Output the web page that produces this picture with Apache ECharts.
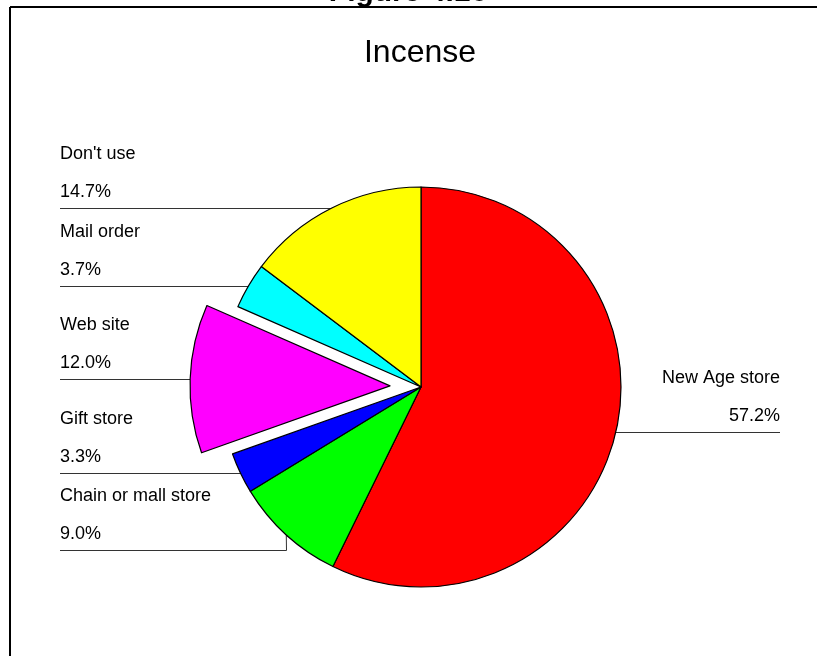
<!DOCTYPE html>
<html>
<head>
<meta charset="utf-8">
<script src="https://cdn.jsdelivr.net/npm/echarts@6/dist/echarts.min.js"></script>
<style>
  html, body { margin: 0; padding: 0; background: #ffffff; }
  #chart { width: 817px; height: 656px; }
</style>
</head>
<body>
<div id="chart"></div>
<script>
// Where incense buyers shop (share of respondents, %)
const categories = ['New Age store', 'Chain or mall store', 'Gift store', 'Web site', 'Mail order', "Don't use"];
const shares = [57.2, 9.0, 3.3, 12.0, 3.7, 14.7];
const sliceColors = ['#ff0000', '#00ff00', '#0000ff', '#ff00ff', '#00ffff', '#ffff00'];
const explodedSlice = 'Web site';
const chartTitle = 'Incense';
const figureCaption = 'Figure 4.16';

// Pie geometry and label column settings
const CX = 421, CY = 387, R = 200, OFFSET = 31;
const ROW = 77;                 // height of one two-line label block
const LEFT_X = 60, RIGHT_X = 780;
const FONT = '"Liberation Sans", Arial, sans-serif';

// Mid-angle direction of every slice (clockwise from 12 o'clock)
const total = shares.reduce((a, b) => a + b, 0);
let acc = 0;
const dirs = shares.map(v => {
  const mid = (acc + v / 2) / total * 2 * Math.PI;
  acc += v;
  return { sx: Math.sin(mid), cy: -Math.cos(mid) };
});
const explodedIndex = categories.indexOf(explodedSlice);
const shift = [dirs[explodedIndex].sx * OFFSET, dirs[explodedIndex].cy * OFFSET];

// Rim point where each leader line starts
const anchors = dirs.map((d, i) => {
  const r = R + (i === explodedIndex ? OFFSET : 0);
  return { x: CX + r * d.sx, y: CY + r * d.cy, right: d.sx > 0 };
});

// Stack the left-hand labels top-down so that their blocks never overlap
const lineY = anchors.map(a => a.y);
let prevY = -Infinity;
anchors.map((a, i) => i)
  .filter(i => !anchors[i].right)
  .sort((a, b) => anchors[a].y - anchors[b].y)
  .forEach(i => { lineY[i] = Math.max(anchors[i].y, prevY + ROW); prevY = lineY[i]; });

const hidden = { color: 'rgba(0,0,0,0)', borderWidth: 0 };
const snap = v => Math.round(v) + 0.5;

const chart = echarts.init(document.getElementById('chart'), null, { renderer: 'canvas' });

chart.setOption({
  animation: false,
  backgroundColor: '#ffffff',
  graphic: [
    { type: 'text', x: 408, y: -7,
      style: { text: figureCaption, font: 'bold 30px ' + FONT, fill: '#000', align: 'center', verticalAlign: 'middle' } },
    { type: 'rect', shape: { x: 0, y: 7, width: 817, height: 649 }, style: { fill: '#fff' }, z: -1 },
    { type: 'line', shape: { x1: 10, y1: 7, x2: 817, y2: 7 }, style: { stroke: '#000', lineWidth: 2 } },
    { type: 'line', shape: { x1: 10, y1: 7, x2: 10, y2: 656 }, style: { stroke: '#000', lineWidth: 2 } },
    { type: 'text', x: 420, y: 53,
      style: { text: chartTitle, font: '32px ' + FONT, fill: '#000', align: 'center', verticalAlign: 'middle' } }
  ],
  series: [
    // Main pie: every slice except the pulled-out one, plus all labels
    {
      type: 'pie',
      center: [CX, CY],
      radius: R,
      startAngle: 90,
      clockwise: true,
      avoidLabelOverlap: false,
      emphasis: { disabled: true },
      itemStyle: { borderColor: '#000', borderWidth: 1.2 },
      data: categories.map((name, i) => ({
        name,
        value: shares[i],
        itemStyle: i === explodedIndex ? hidden : { color: sliceColors[i] }
      })),
      label: {
        show: true,
        position: 'outside',
        color: '#000',
        fontFamily: FONT,
        fontSize: 18,
        formatter: p => '{n|' + p.name + '}\n{v|' + p.value.toFixed(1) + '%}',
        rich: {
          n: { fontSize: 18, lineHeight: 38, fontFamily: FONT, color: '#000' },
          v: { fontSize: 18, lineHeight: 38, fontFamily: FONT, color: '#000' }
        }
      },
      labelLine: { show: true, lineStyle: { color: '#333', width: 1 } },
      labelLayout: function (p) {
        const i = p.dataIndex, a = anchors[i], y = lineY[i];
        const endX = a.right ? RIGHT_X : LEFT_X;
        const pts = [[a.x, snap(a.y)]];
        if (Math.abs(y - a.y) > 1) pts.push([snap(a.x), snap(y)]);
        pts.push([endX, snap(y)]);
        return {
          x: endX, y: y + 3,
          align: a.right ? 'right' : 'left',
          verticalAlign: 'bottom',
          labelLinePoints: pts
        };
      }
    },
    // The same pie again, showing only the exploded slice, moved out along its mid-angle
    {
      type: 'pie',
      silent: true,
      center: [CX + shift[0], CY + shift[1]],
      radius: R,
      startAngle: 90,
      clockwise: true,
      emphasis: { disabled: true },
      label: { show: false },
      labelLine: { show: false },
      itemStyle: { borderColor: '#000', borderWidth: 1.2 },
      data: categories.map((name, i) => ({
        name,
        value: shares[i],
        itemStyle: i === explodedIndex ? { color: sliceColors[i] } : hidden
      }))
    }
  ]
});
</script>
</body>
</html>
